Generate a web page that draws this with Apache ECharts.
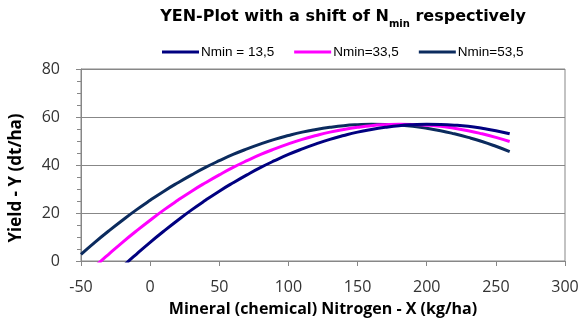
<!DOCTYPE html>
<html>
<head>
<meta charset="utf-8">
<script src="https://cdn.jsdelivr.net/npm/echarts@6/dist/echarts.min.js"></script>
<style>
html,body{margin:0;padding:0;background:#fff;}
#chart{width:583px;height:323px;}
</style>
</head>
<body>
<div id="chart"></div>
<script>
// Mineral nitrogen X (kg/ha)
const xValues = [-50,-40,-30,-20,-10,0,10,20,30,40,50,60,70,80,90,100,110,120,130,140,150,160,170,180,190,200,210,220,230,240,250,260];
// Yield Y (dt/ha) (values below 0 are clipped by the axis)
const yieldN13 = [-19.5,-13.6,-7.9,-2.4,2.8,7.8,12.5,17.0,21.3,25.3,29.1,32.6,35.9,39.0,41.8,44.4,46.7,48.8,50.7,52.3,53.7,54.8,55.7,56.4,56.8,57.0,56.9,56.6,56.1,55.3,54.3,53.0];
const yieldN33 = [-7.9,-2.4,2.8,7.8,12.5,17.0,21.3,25.3,29.1,32.6,35.9,39.0,41.8,44.4,46.7,48.8,50.7,52.3,53.7,54.8,55.7,56.4,56.8,57.0,56.9,56.6,56.1,55.3,54.3,53.0,51.5,49.8];
const yieldN53 = [2.8,7.8,12.5,17.0,21.3,25.3,29.1,32.6,35.9,39.0,41.8,44.4,46.7,48.8,50.7,52.3,53.7,54.8,55.7,56.4,56.8,57.0,56.9,56.6,56.1,55.3,54.3,53.0,51.5,49.8,47.8,45.6];
const seriesNames = ['Nmin = 13,5','Nmin=33,5','Nmin=53,5'];
const seriesColors = ['#000080','#FF00FF','#0B2B5E'];
const xTicks = [-50,0,50,100,150,200,250,300];
const yTicks = [0,20,40,60,80];

const pairs = arr => xValues.map((x,i)=>[x,arr[i]]);
const allY = [yieldN13,yieldN33,yieldN53];

const chart = echarts.init(document.getElementById('chart'));
chart.setOption({
  backgroundColor:'#fff',
  animation:false,
  title:{
    text:'{a|YEN-Plot with a shift of N}{s|min}{a| respectively}',
    left:338, top:0, textAlign:'center',
    textStyle:{
      rich:{
        a:{fontFamily:'DejaVu Sans',fontWeight:'bold',fontSize:16,color:'#000',lineHeight:24,verticalAlign:'middle'},
        s:{fontFamily:'DejaVu Sans',fontWeight:'bold',fontSize:10,color:'#000',lineHeight:13,verticalAlign:'bottom'}
      }
    }
  },
  legend:{
    top:40, left:157,
    itemWidth:37, itemHeight:3, itemGap:20,
    icon:'rect',
    textStyle:{fontFamily:'Liberation Sans',fontSize:13.5,color:'#000',padding:[0,0,0,-3]},
    data:seriesNames
  },
  grid:{left:81,right:18,top:69,bottom:62,outerBoundsMode:'none',containLabel:false,show:true,borderColor:'#878787',borderWidth:1,backgroundColor:'transparent'},
  xAxis:{
    type:'value', min:xTicks[0], max:xTicks[xTicks.length-1], interval:50,
    name:'Mineral (chemical) Nitrogen - X (kg/ha)',
    nameLocation:'middle', nameGap:40,
    nameTextStyle:{fontFamily:'Open Sans',fontWeight:'bold',fontSize:16,color:'#000'},
    axisLine:{show:true,onZero:false,lineStyle:{color:'#878787',width:1}},
    axisTick:{show:true,inside:false,length:5,lineStyle:{color:'#878787'}},
    axisLabel:{fontFamily:'Open Sans',fontSize:16,color:'#333',margin:18},
    splitLine:{show:false}
  },
  yAxis:{
    type:'value', min:yTicks[0], max:yTicks[yTicks.length-1], interval:20,
    name:'Yield - Y (dt/ha)',
    nameLocation:'middle', nameGap:56,
    nameTextStyle:{fontFamily:'Open Sans',fontWeight:'bold',fontSize:17,color:'#000',padding:[0,26,0,0]},
    axisLine:{show:true,onZero:false,lineStyle:{color:'#878787',width:1}},
    axisTick:{show:true,inside:false,length:5,lineStyle:{color:'#878787'}},
    minorTick:{show:true,splitNumber:4,length:4,lineStyle:{color:'#878787'}},
    axisLabel:{fontFamily:'Open Sans',fontSize:16,color:'#333',margin:21},
    splitLine:{show:true,lineStyle:{color:'#878787',width:1}}
  },
  series: seriesNames.map((n,i)=>({
    name:n, type:'line', data:pairs(allY[i]), smooth:true, showSymbol:false, symbol:'none',
    clip:true, lineStyle:{color:seriesColors[i],width:3}, itemStyle:{color:seriesColors[i]}, z:3-i
  }))
});
</script>
</body>
</html>
